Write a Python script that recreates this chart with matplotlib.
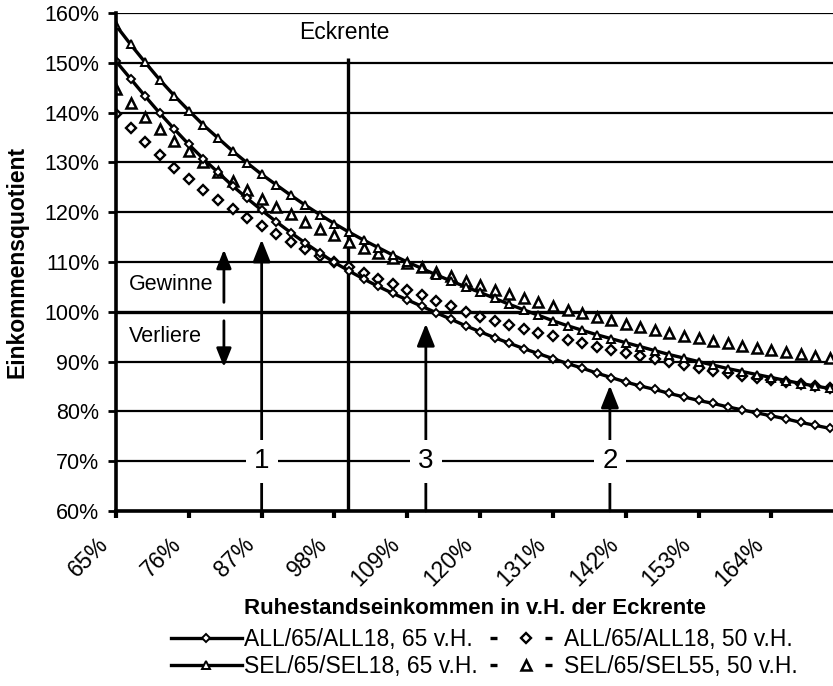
import matplotlib.pyplot as plt
from matplotlib.lines import Line2D
from matplotlib.transforms import ScaledTranslation

plt.rcParams['font.family'] = ['Liberation Sans', 'DejaVu Sans']

# Ruhestandseinkommen in % der Eckrente (x)
einkommen = [65.0, 67.2, 69.4, 71.6, 73.8, 76.0, 78.2, 80.4, 82.6, 84.8,
             87.0, 89.2, 91.4, 93.6, 95.8, 98.0, 100.2, 102.4, 104.6, 106.8,
             109.0, 111.2, 113.4, 115.6, 117.8, 120.0, 122.2, 124.4, 126.6, 128.8,
             131.0, 133.2, 135.4, 137.6, 139.8, 142.0, 144.2, 146.4, 148.6, 150.8,
             153.0, 155.2, 157.4, 159.6, 161.8, 164.0, 166.2, 168.4, 170.6, 172.8]

all_65 = [150.3, 146.8, 143.3, 139.9, 136.7, 133.6, 130.7, 128.0, 125.3, 122.8,
          120.4, 118.1, 115.9, 113.8, 111.8, 109.9, 108.2, 106.6, 105.1, 103.7,
          102.4, 101.1, 99.8, 98.5, 97.2, 96.0, 94.8, 93.7, 92.6, 91.6,
          90.6, 89.6, 88.7, 87.7, 86.8, 85.9, 85.1, 84.4, 83.6, 82.9,
          82.2, 81.6, 80.9, 80.3, 79.7, 79.1, 78.5, 77.8, 77.2, 76.6]

all_50 = [139.8, 136.9, 134.0, 131.4, 128.9, 126.6, 124.5, 122.5, 120.7, 118.9,
          117.2, 115.6, 114.0, 112.6, 111.3, 110.1, 108.9, 107.8, 106.6, 105.5,
          104.4, 103.3, 102.2, 101.1, 100.0, 99.0, 98.2, 97.4, 96.6, 95.8,
          95.1, 94.4, 93.7, 93.0, 92.3, 91.7, 91.1, 90.5, 89.9, 89.3,
          88.7, 88.2, 87.7, 87.2, 86.7, 86.3, 85.9, 85.5, 85.1, 84.7]

sel_65 = [157.5, 153.7, 150.1, 146.6, 143.4, 140.4, 137.5, 134.9, 132.3, 129.9,
          127.6, 125.5, 123.4, 121.4, 119.5, 117.7, 116.0, 114.4, 112.9, 111.4,
          110.0, 108.7, 107.4, 106.2, 105.0, 103.9, 102.7, 101.5, 100.4, 99.3,
          98.2, 97.2, 96.3, 95.4, 94.6, 93.8, 93.0, 92.2, 91.4, 90.7,
          90.0, 89.3, 88.6, 88.0, 87.4, 86.8, 86.2, 85.6, 85.1, 84.6]

sel_50 = [144.8, 142.0, 139.2, 136.7, 134.3, 132.2, 130.1, 128.1, 126.2, 124.4,
          122.7, 121.1, 119.6, 118.1, 116.7, 115.4, 114.1, 112.9, 111.8, 110.8,
          109.8, 108.9, 108.0, 107.1, 106.2, 105.3, 104.4, 103.6, 102.8, 102.0,
          101.2, 100.4, 99.7, 99.0, 98.3, 97.6, 97.0, 96.4, 95.8, 95.2,
          94.7, 94.2, 93.7, 93.2, 92.7, 92.3, 91.9, 91.5, 91.1, 90.7]

x_ticks = [65, 76, 87, 98, 109, 120, 131, 142, 153, 164]
x_ticklabels = ['65%', '76%', '87%', '98%', '109%', '120%', '131%', '142%', '153%', '164%']
y_ticks = [60, 70, 80, 90, 100, 110, 120, 130, 140, 150, 160]

eckrente = 100
# Pfeile 1, 3, 2: Position und Spitze
pfeil_x = [87, 111.8, 139.6]
pfeil_spitze = [114.5, 97.6, 85.2]
pfeil_text = ['1', '3', '2']

fig = plt.figure(figsize=(8.33, 6.86), dpi=100)
ax = fig.add_axes([116 / 833, 175 / 686, 717 / 833, 498 / 686])

ax.set_xlim(65, 173.3)
ax.set_ylim(60, 160)

for y in y_ticks:
    ax.axhline(y, color='black', lw=2.4 if y == 100 else 1.6, zorder=1)

ax.vlines(eckrente, 60, 151, color='black', lw=2.4, zorder=2)
ax.text(eckrente - 0.5, 156, 'Eckrente', fontsize=16.5, ha='center', va='center')

l1, = ax.plot(einkommen, all_65, color='black', lw=2.4, marker='D', ms=4,
              mfc='white', mec='black', mew=1.4, zorder=5)
l3, = ax.plot(einkommen, sel_65, color='black', lw=2.4, marker='^', ms=6,
              mfc='white', mec='black', mew=1.4, zorder=5)
ax.plot(einkommen, all_50, ls='none', marker='D', ms=5,
        mfc='white', mec='black', mew=1.7, zorder=4)
ax.plot(einkommen, sel_50, ls='none', marker='^', ms=7,
        mfc='white', mec='black', mew=1.8, zorder=4)

pfeil = dict(arrowstyle='-|>,head_length=0.75,head_width=0.3', color='black',
             lw=2, mutation_scale=18, shrinkA=0, shrinkB=0)
pfeil_klein = dict(arrowstyle='-|>,head_length=0.75,head_width=0.3', color='black',
                   lw=2, mutation_scale=15, shrinkA=0, shrinkB=0)
for px, ps, pt in zip(pfeil_x, pfeil_spitze, pfeil_text):
    ax.annotate('', xy=(px, ps), xytext=(px, 60), arrowprops=pfeil, zorder=6)
    ax.text(px, 70, pt, fontsize=20, ha='center', va='center', zorder=7,
            bbox=dict(boxstyle='square,pad=0.3', fc='white', ec='none'))

ax.annotate('', xy=(81.3, 112.5), xytext=(81.3, 101.9), arrowprops=pfeil_klein, zorder=6)
ax.annotate('', xy=(81.3, 88.9), xytext=(81.3, 98.2), arrowprops=pfeil_klein, zorder=6)
ax.text(67.0, 105.5, 'Gewinne', fontsize=15.5, ha='left', va='center')
ax.text(67.0, 95.0, 'Verliere', fontsize=15.5, ha='left', va='center')

for s in ['top', 'right']:
    ax.spines[s].set_visible(False)
for s in ['left', 'bottom']:
    ax.spines[s].set_linewidth(2.6)
    ax.spines[s].set_zorder(8)

ax.set_yticks(y_ticks)
ax.set_yticklabels([f'{v}%' for v in y_ticks], fontsize=15.5)
ax.set_xticks(x_ticks)
ax.set_xticklabels(x_ticklabels, fontsize=16.5, rotation=45, ha='right', va='top')
ax.tick_params(axis='x', length=5, width=3, pad=11)
ax.tick_params(axis='y', length=6, width=2, pad=6)
shift = ScaledTranslation(-3 / 100, 0, fig.dpi_scale_trans)
for lab in ax.get_xticklabels():
    lab.set_transform(lab.get_transform() + shift)

fig.text(17 / 833, 1 - 262 / 686, 'Einkommensquotient', rotation=90, fontsize=16.5,
         fontweight='bold', ha='center', va='center')
fig.text(475 / 833, 1 - 608 / 686, 'Ruhestandseinkommen in v.H. der Eckrente',
         fontsize=16, fontweight='bold', ha='center', va='center')

h2 = Line2D([], [], color='black', lw=2.4, ls=(0, (2.1, 14.4)), marker='D', ms=5,
            mfc='white', mec='black', mew=1.7)
h4 = Line2D([], [], color='black', lw=2.4, ls=(0, (2.1, 14.4)), marker='^', ms=7,
            mfc='white', mec='black', mew=1.8)
fig.legend([l1, l3, h2, h4],
           ['ALL/65/ALL18, 65 v.H.', 'SEL/65/SEL18, 65 v.H.',
            'ALL/65/ALL18, 50 v.H.', 'SEL/65/SEL55, 50 v.H.'],
           ncol=2, loc='center', bbox_to_anchor=(484 / 833, 1 - 653 / 686),
           frameon=False, fontsize=16.5, handlelength=3.1, handletextpad=0.1,
           columnspacing=0.55, labelspacing=0.2, numpoints=1, borderpad=0.1)

fig.savefig('out.png', dpi=100)
